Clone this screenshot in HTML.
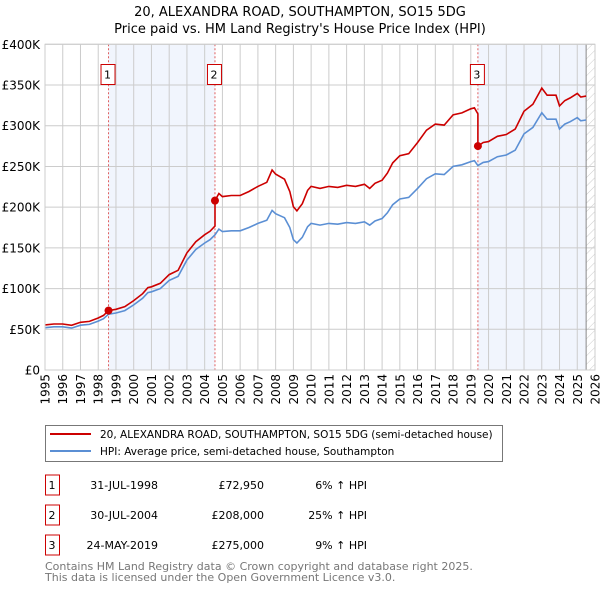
<!DOCTYPE html>
<html><head><meta charset="utf-8">
<style>
body{margin:0;background:#fff;font-family:"DejaVu Sans","Liberation Sans",sans-serif;}
svg text{font-family:"DejaVu Sans","Liberation Sans",sans-serif;}
</style></head>
<body>
<svg id="chart" width="600" height="590" xmlns="http://www.w3.org/2000/svg">
<defs>
<pattern id="hatch" width="6" height="6" patternUnits="userSpaceOnUse" patternTransform="rotate(45)">
<line x1="0" y1="0" x2="0" y2="6" stroke="#ccc" stroke-width="1"/>
</pattern>
</defs>
<text x="300" y="16" text-anchor="middle" font-size="13">20, ALEXANDRA ROAD, SOUTHAMPTON, SO15 5DG</text>
<text x="300" y="33" text-anchor="middle" font-size="13">Price paid vs. HM Land Registry's House Price Index (HPI)</text>
<g id="plot"></g>
<g>
<rect x="45.5" y="425.5" width="457" height="36" fill="#fff" stroke="#777"/>
<line x1="50" y1="434" x2="91" y2="434" stroke="#cc0000" stroke-width="2"/>
<text x="100" y="438" font-size="10.5">20, ALEXANDRA ROAD, SOUTHAMPTON, SO15 5DG (semi-detached house)</text>
<line x1="50" y1="451" x2="91" y2="451" stroke="#5b8fd4" stroke-width="2"/>
<text x="100" y="455" font-size="10.5">HPI: Average price, semi-detached house, Southampton</text>
</g>
<g id="table" font-size="11"></g>
<text x="45" y="570" font-size="11" fill="#777">Contains HM Land Registry data © Crown copyright and database right 2025.</text>
<text x="45" y="581" font-size="11" fill="#777">This data is licensed under the Open Government Licence v3.0.</text>
</svg>
<script>
const hpiYears = [1995,1995.5,1996,1996.5,1997,1997.5,1998,1998.3,1998.58,1999,1999.5,2000,2000.5,2000.8,2001,2001.5,2002,2002.5,2003,2003.5,2004,2004.3,2004.58,2004.8,2005,2005.5,2006,2006.5,2007,2007.5,2007.8,2008,2008.5,2008.8,2009,2009.2,2009.5,2009.8,2010,2010.5,2011,2011.5,2012,2012.5,2013,2013.3,2013.6,2014,2014.3,2014.6,2015,2015.5,2016,2016.5,2017,2017.5,2018,2018.5,2019,2019.2,2019.4,2019.7,2020,2020.5,2021,2021.5,2022,2022.5,2023,2023.3,2023.8,2024,2024.3,2024.6,2025,2025.2,2025.5];
const hpiValues = [52000,53000,53000,51500,55000,56000,60000,63000,68500,70000,73000,80000,88000,95000,96000,100000,110000,115000,135000,148000,156000,160000,166000,173000,170000,171000,171000,175000,180000,184000,196000,192000,187000,175000,160000,156000,163000,176000,180000,178000,180000,179000,181000,180000,182000,178000,183000,186000,193000,203000,210000,212000,223000,235000,241000,240000,250000,252000,256000,257000,251000,255000,256000,262000,264000,270000,290000,298000,316000,308000,308000,296000,302000,305000,310000,306000,307000];
const saleYears = [1998.58, 2004.58, 2019.4];
const salePrices = [72950, 208000, 275000];
const saleLabels = ["1","2","3"];
const saleDates = ["31-JUL-1998","30-JUL-2004","24-MAY-2019"];
const salePriceText = ["£72,950","£208,000","£275,000"];
const salePctText = ["6% ↑ HPI","25% ↑ HPI","9% ↑ HPI"];
const yTicks = [0,50000,100000,150000,200000,250000,300000,350000,400000];
const yTickLabels = ["£0","£50K","£100K","£150K","£200K","£250K","£300K","£350K","£400K"];
const xTicks = [1995,1996,1997,1998,1999,2000,2001,2002,2003,2004,2005,2006,2007,2008,2009,2010,2011,2012,2013,2014,2015,2016,2017,2018,2019,2020,2021,2022,2023,2024,2025,2026];

const NS="http://www.w3.org/2000/svg";
const X0=45,X1=595,Y0=370,Y1=44.3;
const xs=v=>X0+(v-1995)/(2026-1995)*(X1-X0);
const ys=v=>Y0-v/400000*(Y0-Y1);
const plot=document.getElementById('plot');
function mk(tag,attrs,parent){const e=document.createElementNS(NS,tag);for(const k in attrs)e.setAttribute(k,attrs[k]);(parent||plot).appendChild(e);return e;}
function hpiAt(t){for(let i=0;i<hpiYears.length-1;i++){if(t<=hpiYears[i+1]){const f=(t-hpiYears[i])/(hpiYears[i+1]-hpiYears[i]);return hpiValues[i]+f*(hpiValues[i+1]-hpiValues[i]);}}return hpiValues[hpiValues.length-1];}

let s1=mk('rect',{x:xs(saleYears[0]),y:Y1,width:xs(saleYears[1])-xs(saleYears[0]),height:Y0-Y1,fill:'#eef3fc',opacity:0.8});


let s2=mk('rect',{x:xs(saleYears[2]),y:Y1,width:xs(2025.5)-xs(saleYears[2]),height:Y0-Y1,fill:'#eef3fc',opacity:0.8});


let hz=mk('rect',{x:xs(2025.5),y:Y1,width:X1-xs(2025.5),height:Y0-Y1,fill:'url(#hatch)'});



yTicks.forEach((v,i)=>{
  const l=mk('line',{x1:X0,x2:X1,y1:ys(v),y2:ys(v),stroke:'#ccc','stroke-width':1});
  
  
  const t=mk('text',{x:40,y:ys(v)+4.5,'text-anchor':'end','font-size':12});
  t.textContent=yTickLabels[i];
  
  
});
xTicks.forEach(v=>{
  const l=mk('line',{x1:xs(v),x2:xs(v),y1:Y1,y2:Y0,stroke:'#ccc','stroke-width':1});
  
  
  const t=mk('text',{x:0,y:0,'text-anchor':'end','font-size':12,transform:`translate(${xs(v)+4.5},374) rotate(-90)`});
  t.textContent=v;
  
  
});
let vl=mk('line',{x1:xs(2025.5),x2:xs(2025.5),y1:Y1,y2:Y0,stroke:'#888','stroke-width':1});



saleYears.forEach((y,i)=>{
  const l=mk('line',{x1:xs(y),x2:xs(y),y1:Y1,y2:Y0,stroke:'#e06060','stroke-width':1,'stroke-dasharray':'2,2'});
  
  
  const r=mk('rect',{x:xs(y)-7.5,y:64.5,width:14,height:20,fill:'#fff',stroke:'#cc0000'});
  
  
  const t=mk('text',{x:xs(y)-1,y:78.5,'text-anchor':'middle','font-size':11});
  t.textContent=saleLabels[i];
  
  
});

let hp='';hpiYears.forEach((t,i)=>{hp+=(i?'L':'M')+xs(t).toFixed(1)+' '+ys(hpiValues[i]).toFixed(1);});
const hl=mk('path',{d:hp,fill:'none',stroke:'#5b8fd4','stroke-width':1.6});



function ratioAt(t){let k=0;for(let i=0;i<saleYears.length;i++)if(t>=saleYears[i])k=i;return salePrices[k]/hpiAt(saleYears[k]);}
let pts=[];
hpiYears.forEach((t,i)=>{
  saleYears.forEach((s,k)=>{if(i>0&&hpiYears[i-1]<s&&t>s){pts.push([s,hpiAt(s)*ratioAt(s-1e-6)]);pts.push([s,salePrices[k]]);}});
  if(saleYears.includes(t)&&t>hpiYears[0]){pts.push([t,hpiAt(t)*ratioAt(t-1e-6)]);}
  pts.push([t,hpiValues[i]*ratioAt(t)]);
});
let rp='';pts.forEach((p,i)=>{rp+=(i?'L':'M')+xs(p[0]).toFixed(1)+' '+ys(p[1]).toFixed(1);});
const rl=mk('path',{d:rp,fill:'none',stroke:'#cc0000','stroke-width':1.6});


saleYears.forEach((s,k)=>{
  const c=mk('circle',{cx:xs(s),cy:ys(salePrices[k]),r:4,fill:'#cc0000'});
  
  
});
let fr=mk('rect',{x:X0,y:Y1,width:X1-X0,height:Y0-Y1,fill:'none',stroke:'#ccc'});



const tbl=document.getElementById('table');
saleYears.forEach((s,i)=>{
  const y=485+i*30;
  const r=mk('rect',{x:45.5,y:y-10,width:14,height:20,fill:'#fff',stroke:'#cc0000'},tbl);
  
  
  const a=mk('text',{x:52,y:y+4,'text-anchor':'middle'},tbl);a.textContent=saleLabels[i];
  
  
  const d=mk('text',{x:158,y:y+4,'text-anchor':'end'},tbl);d.textContent=saleDates[i];
  
  
  const p=mk('text',{x:264,y:y+4,'text-anchor':'end'},tbl);p.textContent=salePriceText[i];
  
  
  const h=mk('text',{x:367,y:y+4,'text-anchor':'end'},tbl);h.textContent=salePctText[i];
  
  
});
</script>
</body></html>
